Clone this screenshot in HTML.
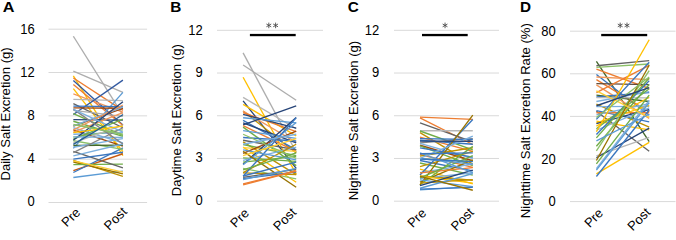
<!DOCTYPE html>
<html><head><meta charset="utf-8"><style>
html,body{margin:0;padding:0;background:#fff;width:676px;height:232px;overflow:hidden;position:relative}
.t{font-family:"Liberation Sans",sans-serif;font-size:13px;fill:#000}
.lb{font-family:"Liberation Sans",sans-serif;font-size:15.3px;font-weight:bold;fill:#000}
</style></head><body>
<svg width="676" height="232" viewBox="0 0 676 232" style="position:absolute;left:0;top:0"><line x1="48.5" y1="202.50" x2="147.1" y2="202.50" stroke="#d9d9d9" stroke-width="1"/><text transform="translate(34.8,201.30) scale(1,1.07)" y="4.7" text-anchor="end" class="t">0</text><line x1="48.5" y1="159.18" x2="147.1" y2="159.18" stroke="#d9d9d9" stroke-width="1"/><text transform="translate(34.8,158.12) scale(1,1.07)" y="4.7" text-anchor="end" class="t">4</text><line x1="48.5" y1="115.85" x2="147.1" y2="115.85" stroke="#d9d9d9" stroke-width="1"/><text transform="translate(34.8,114.95) scale(1,1.07)" y="4.7" text-anchor="end" class="t">8</text><line x1="48.5" y1="72.52" x2="147.1" y2="72.52" stroke="#d9d9d9" stroke-width="1"/><text transform="translate(34.8,71.78) scale(1,1.07)" y="4.7" text-anchor="end" class="t">12</text><line x1="48.5" y1="29.20" x2="147.1" y2="29.20" stroke="#d9d9d9" stroke-width="1"/><text transform="translate(34.8,28.60) scale(1,1.07)" y="4.7" text-anchor="end" class="t">16</text><line x1="73.35" y1="36.24" x2="122.90" y2="115.20" stroke="#ADADAD" stroke-width="1.35"/><line x1="73.35" y1="71.23" x2="122.90" y2="92.35" stroke="#ADADAD" stroke-width="1.35"/><line x1="73.35" y1="75.77" x2="122.90" y2="155.60" stroke="#FFC000" stroke-width="1.35"/><line x1="73.35" y1="77.94" x2="122.90" y2="110.43" stroke="#ED7D31" stroke-width="1.35"/><line x1="73.35" y1="80.43" x2="122.90" y2="125.06" stroke="#335AA1" stroke-width="1.35"/><line x1="73.35" y1="84.44" x2="122.90" y2="125.60" stroke="#ED7D31" stroke-width="1.35"/><line x1="73.35" y1="88.56" x2="122.90" y2="151.59" stroke="#FFC000" stroke-width="1.35"/><line x1="73.35" y1="103.72" x2="122.90" y2="127.76" stroke="#636363" stroke-width="1.35"/><line x1="73.35" y1="93.97" x2="122.90" y2="112.06" stroke="#F1975A" stroke-width="1.35"/><line x1="73.35" y1="99.39" x2="122.90" y2="100.69" stroke="#B7B7B7" stroke-width="1.35"/><line x1="73.35" y1="114.55" x2="122.90" y2="80.11" stroke="#335AA1" stroke-width="1.35"/><line x1="73.35" y1="148.34" x2="122.90" y2="92.35" stroke="#5B9BD5" stroke-width="1.35"/><line x1="73.35" y1="177.48" x2="122.90" y2="171.20" stroke="#5B9BD5" stroke-width="1.35"/><line x1="73.35" y1="160.47" x2="122.90" y2="176.29" stroke="#BF9000" stroke-width="1.35"/><line x1="73.35" y1="161.99" x2="122.90" y2="173.80" stroke="#997300" stroke-width="1.35"/><line x1="73.35" y1="170.55" x2="122.90" y2="153.76" stroke="#C65911" stroke-width="1.35"/><line x1="73.35" y1="172.50" x2="122.90" y2="147.91" stroke="#3A76BF" stroke-width="1.35"/><line x1="73.35" y1="164.59" x2="122.90" y2="164.05" stroke="#70AD47" stroke-width="1.35"/><line x1="73.35" y1="151.38" x2="122.90" y2="167.84" stroke="#636363" stroke-width="1.35"/><line x1="73.35" y1="106.10" x2="122.90" y2="106.64" stroke="#3A76BF" stroke-width="1.35"/><line x1="73.35" y1="107.83" x2="122.90" y2="108.27" stroke="#9E480E" stroke-width="1.35"/><line x1="73.35" y1="110.43" x2="122.90" y2="116.39" stroke="#ADADAD" stroke-width="1.35"/><line x1="73.35" y1="113.68" x2="122.90" y2="135.35" stroke="#70AD47" stroke-width="1.35"/><line x1="73.35" y1="126.14" x2="122.90" y2="108.27" stroke="#9E480E" stroke-width="1.35"/><line x1="73.35" y1="119.64" x2="122.90" y2="120.18" stroke="#264478" stroke-width="1.35"/><line x1="73.35" y1="129.93" x2="122.90" y2="146.18" stroke="#9E480E" stroke-width="1.35"/><line x1="73.35" y1="121.27" x2="122.90" y2="136.43" stroke="#70AD47" stroke-width="1.35"/><line x1="73.35" y1="125.92" x2="122.90" y2="107.18" stroke="#7CAFDD" stroke-width="1.35"/><line x1="73.35" y1="127.76" x2="122.90" y2="142.93" stroke="#7CAFDD" stroke-width="1.35"/><line x1="73.35" y1="129.93" x2="122.90" y2="105.02" stroke="#F1975A" stroke-width="1.35"/><line x1="73.35" y1="132.10" x2="122.90" y2="112.60" stroke="#F1975A" stroke-width="1.35"/><line x1="73.35" y1="134.26" x2="122.90" y2="132.64" stroke="#7CAFDD" stroke-width="1.35"/><line x1="73.35" y1="137.08" x2="122.90" y2="129.93" stroke="#8CC168" stroke-width="1.35"/><line x1="73.35" y1="139.14" x2="122.90" y2="119.10" stroke="#70AD47" stroke-width="1.35"/><line x1="73.35" y1="140.76" x2="122.90" y2="149.43" stroke="#8CC168" stroke-width="1.35"/><line x1="73.35" y1="140.22" x2="122.90" y2="101.77" stroke="#264478" stroke-width="1.35"/><line x1="73.35" y1="142.93" x2="122.90" y2="125.06" stroke="#B7B7B7" stroke-width="1.35"/><line x1="73.35" y1="145.53" x2="122.90" y2="145.09" stroke="#43682B" stroke-width="1.35"/><line x1="73.35" y1="147.26" x2="122.90" y2="138.60" stroke="#7CAFDD" stroke-width="1.35"/><line x1="73.35" y1="152.68" x2="122.90" y2="127.76" stroke="#848484" stroke-width="1.35"/><line x1="73.35" y1="155.93" x2="122.90" y2="144.01" stroke="#7CAFDD" stroke-width="1.35"/><line x1="73.35" y1="159.18" x2="122.90" y2="152.24" stroke="#3A76BF" stroke-width="1.35"/><line x1="73.35" y1="160.91" x2="122.90" y2="172.17" stroke="#FFCD33" stroke-width="1.35"/><line x1="73.35" y1="136.86" x2="122.90" y2="137.51" stroke="#7CAFDD" stroke-width="1.35"/><line x1="73.35" y1="109.13" x2="122.90" y2="144.01" stroke="#848484" stroke-width="1.35"/><line x1="73.35" y1="109.35" x2="122.90" y2="132.10" stroke="#7CAFDD" stroke-width="1.35"/><line x1="73.35" y1="124.51" x2="122.90" y2="134.26" stroke="#8CC168" stroke-width="1.35"/><line x1="73.35" y1="132.64" x2="122.90" y2="126.14" stroke="#FFC000" stroke-width="1.35"/><line x1="73.35" y1="144.44" x2="122.90" y2="114.77" stroke="#255E91" stroke-width="1.35"/><text transform="translate(81.15,213.30) rotate(-45)" text-anchor="end" class="t">Pre</text><text transform="translate(127.75,212.50) rotate(-45)" text-anchor="end" class="t">Post</text><text transform="translate(9.7,113.95) rotate(-90)" text-anchor="middle" class="t" style="font-size:13.1px">Daily Salt Excretion (g)</text><text transform="translate(2.80,11.6) scale(1.06,1)" class="lb">A</text><line x1="217" y1="201.20" x2="323" y2="201.20" stroke="#d9d9d9" stroke-width="1"/><text transform="translate(202.7,199.80) scale(1,1.07)" y="4.7" text-anchor="end" class="t">0</text><line x1="217" y1="158.47" x2="323" y2="158.47" stroke="#d9d9d9" stroke-width="1"/><text transform="translate(202.7,157.35) scale(1,1.07)" y="4.7" text-anchor="end" class="t">3</text><line x1="217" y1="115.75" x2="323" y2="115.75" stroke="#d9d9d9" stroke-width="1"/><text transform="translate(202.7,114.90) scale(1,1.07)" y="4.7" text-anchor="end" class="t">6</text><line x1="217" y1="73.03" x2="323" y2="73.03" stroke="#d9d9d9" stroke-width="1"/><text transform="translate(202.7,72.45) scale(1,1.07)" y="4.7" text-anchor="end" class="t">9</text><line x1="217" y1="30.30" x2="323" y2="30.30" stroke="#d9d9d9" stroke-width="1"/><text transform="translate(202.7,30.00) scale(1,1.07)" y="4.7" text-anchor="end" class="t">12</text><line x1="243.10" y1="52.94" x2="296.20" y2="152.21" stroke="#ADADAD" stroke-width="1.35"/><line x1="243.10" y1="65.05" x2="296.20" y2="100.23" stroke="#ADADAD" stroke-width="1.35"/><line x1="243.10" y1="77.30" x2="296.20" y2="174.14" stroke="#FFC000" stroke-width="1.35"/><line x1="243.10" y1="97.38" x2="296.20" y2="128.71" stroke="#B7B7B7" stroke-width="1.35"/><line x1="243.10" y1="100.94" x2="296.20" y2="168.30" stroke="#264478" stroke-width="1.35"/><line x1="243.10" y1="104.36" x2="296.20" y2="135.83" stroke="#FFC000" stroke-width="1.35"/><line x1="243.10" y1="110.91" x2="296.20" y2="153.06" stroke="#BF9000" stroke-width="1.35"/><line x1="243.10" y1="111.19" x2="296.20" y2="142.24" stroke="#F1975A" stroke-width="1.35"/><line x1="243.10" y1="112.62" x2="296.20" y2="131.56" stroke="#ED7D31" stroke-width="1.35"/><line x1="243.10" y1="114.33" x2="296.20" y2="128.14" stroke="#264478" stroke-width="1.35"/><line x1="243.10" y1="117.74" x2="296.20" y2="122.87" stroke="#5B9BD5" stroke-width="1.35"/><line x1="243.10" y1="120.31" x2="296.20" y2="149.93" stroke="#3A76BF" stroke-width="1.35"/><line x1="243.10" y1="122.87" x2="296.20" y2="142.81" stroke="#264478" stroke-width="1.35"/><line x1="243.10" y1="124.86" x2="296.20" y2="105.78" stroke="#264478" stroke-width="1.35"/><line x1="243.10" y1="125.72" x2="296.20" y2="151.35" stroke="#ED7D31" stroke-width="1.35"/><line x1="243.10" y1="127.14" x2="296.20" y2="165.60" stroke="#70AD47" stroke-width="1.35"/><line x1="243.10" y1="130.70" x2="296.20" y2="138.39" stroke="#5B9BD5" stroke-width="1.35"/><line x1="243.10" y1="137.54" x2="296.20" y2="140.96" stroke="#3A76BF" stroke-width="1.35"/><line x1="243.10" y1="140.25" x2="296.20" y2="149.93" stroke="#636363" stroke-width="1.35"/><line x1="243.10" y1="141.95" x2="296.20" y2="174.57" stroke="#BF9000" stroke-width="1.35"/><line x1="243.10" y1="144.52" x2="296.20" y2="155.63" stroke="#70AD47" stroke-width="1.35"/><line x1="243.10" y1="147.08" x2="296.20" y2="182.26" stroke="#FFC000" stroke-width="1.35"/><line x1="243.10" y1="147.65" x2="296.20" y2="151.35" stroke="#FFCD33" stroke-width="1.35"/><line x1="243.10" y1="164.17" x2="296.20" y2="117.46" stroke="#264478" stroke-width="1.35"/><line x1="243.10" y1="153.35" x2="296.20" y2="131.13" stroke="#9E480E" stroke-width="1.35"/><line x1="243.10" y1="157.91" x2="296.20" y2="161.32" stroke="#70AD47" stroke-width="1.35"/><line x1="243.10" y1="160.47" x2="296.20" y2="147.08" stroke="#7CAFDD" stroke-width="1.35"/><line x1="243.10" y1="162.18" x2="296.20" y2="156.34" stroke="#70AD47" stroke-width="1.35"/><line x1="243.10" y1="164.74" x2="296.20" y2="122.59" stroke="#5B9BD5" stroke-width="1.35"/><line x1="243.10" y1="168.30" x2="296.20" y2="178.84" stroke="#8CC168" stroke-width="1.35"/><line x1="243.10" y1="151.35" x2="296.20" y2="187.24" stroke="#997300" stroke-width="1.35"/><line x1="243.10" y1="172.57" x2="296.20" y2="144.23" stroke="#BF9000" stroke-width="1.35"/><line x1="243.10" y1="172.86" x2="296.20" y2="174.57" stroke="#BF9000" stroke-width="1.35"/><line x1="243.10" y1="175.99" x2="296.20" y2="162.18" stroke="#3A76BF" stroke-width="1.35"/><line x1="243.10" y1="176.28" x2="296.20" y2="117.74" stroke="#3A76BF" stroke-width="1.35"/><line x1="243.10" y1="177.42" x2="296.20" y2="169.44" stroke="#636363" stroke-width="1.35"/><line x1="243.10" y1="178.56" x2="296.20" y2="172.00" stroke="#3A76BF" stroke-width="1.35"/><line x1="243.10" y1="179.70" x2="296.20" y2="168.44" stroke="#5B9BD5" stroke-width="1.35"/><line x1="243.10" y1="183.83" x2="296.20" y2="170.87" stroke="#ED7D31" stroke-width="1.35"/><line x1="243.10" y1="184.82" x2="296.20" y2="171.01" stroke="#ED7D31" stroke-width="1.35"/><line x1="243.10" y1="134.26" x2="296.20" y2="158.47" stroke="#8CC168" stroke-width="1.35"/><line x1="243.10" y1="149.93" x2="296.20" y2="159.90" stroke="#5B9BD5" stroke-width="1.35"/><line x1="243.10" y1="144.23" x2="296.20" y2="134.26" stroke="#7CAFDD" stroke-width="1.35"/><line x1="243.10" y1="169.87" x2="296.20" y2="152.78" stroke="#70AD47" stroke-width="1.35"/><line x1="243.10" y1="155.63" x2="296.20" y2="138.54" stroke="#FFCD33" stroke-width="1.35"/><text transform="translate(249.85,214.00) rotate(-45)" text-anchor="end" class="t">Pre</text><text transform="translate(296.95,213.20) rotate(-45)" text-anchor="end" class="t">Post</text><text transform="translate(180.5,120.25) rotate(-90)" text-anchor="middle" class="t" style="font-size:13.1px">Daytime Salt Excretion (g)</text><text transform="translate(170.20,11.6) scale(1.0,1)" class="lb">B</text><rect x="249.90" y="33.9" width="45.80" height="2.3" fill="#000"/><line x1="268.80" y1="22.60" x2="268.80" y2="28.20" stroke="#444" stroke-width="0.85"/><line x1="266.38" y1="24.00" x2="271.22" y2="26.80" stroke="#444" stroke-width="0.85"/><line x1="266.38" y1="26.80" x2="271.22" y2="24.00" stroke="#444" stroke-width="0.85"/><line x1="275.60" y1="22.60" x2="275.60" y2="28.20" stroke="#444" stroke-width="0.85"/><line x1="273.18" y1="24.00" x2="278.02" y2="26.80" stroke="#444" stroke-width="0.85"/><line x1="273.18" y1="26.80" x2="278.02" y2="24.00" stroke="#444" stroke-width="0.85"/><line x1="394" y1="201.20" x2="499" y2="201.20" stroke="#d9d9d9" stroke-width="1"/><text transform="translate(379.3,199.80) scale(1,1.07)" y="4.7" text-anchor="end" class="t">0</text><line x1="394" y1="158.47" x2="499" y2="158.47" stroke="#d9d9d9" stroke-width="1"/><text transform="translate(379.3,157.35) scale(1,1.07)" y="4.7" text-anchor="end" class="t">3</text><line x1="394" y1="115.75" x2="499" y2="115.75" stroke="#d9d9d9" stroke-width="1"/><text transform="translate(379.3,114.90) scale(1,1.07)" y="4.7" text-anchor="end" class="t">6</text><line x1="394" y1="73.03" x2="499" y2="73.03" stroke="#d9d9d9" stroke-width="1"/><text transform="translate(379.3,72.45) scale(1,1.07)" y="4.7" text-anchor="end" class="t">9</text><line x1="394" y1="30.30" x2="499" y2="30.30" stroke="#d9d9d9" stroke-width="1"/><text transform="translate(379.3,30.00) scale(1,1.07)" y="4.7" text-anchor="end" class="t">12</text><line x1="420.00" y1="117.17" x2="472.80" y2="119.45" stroke="#ED7D31" stroke-width="1.35"/><line x1="420.00" y1="117.89" x2="472.80" y2="144.52" stroke="#ED7D31" stroke-width="1.35"/><line x1="420.00" y1="122.87" x2="472.80" y2="141.95" stroke="#636363" stroke-width="1.35"/><line x1="420.00" y1="130.70" x2="472.80" y2="130.70" stroke="#B7B7B7" stroke-width="1.35"/><line x1="420.00" y1="132.70" x2="472.80" y2="164.17" stroke="#BF9000" stroke-width="1.35"/><line x1="420.00" y1="130.99" x2="472.80" y2="149.93" stroke="#70AD47" stroke-width="1.35"/><line x1="420.00" y1="137.11" x2="472.80" y2="151.35" stroke="#ED7D31" stroke-width="1.35"/><line x1="420.00" y1="142.81" x2="472.80" y2="138.68" stroke="#848484" stroke-width="1.35"/><line x1="420.00" y1="140.25" x2="472.80" y2="144.23" stroke="#3A76BF" stroke-width="1.35"/><line x1="420.00" y1="143.38" x2="472.80" y2="158.47" stroke="#7CAFDD" stroke-width="1.35"/><line x1="420.00" y1="145.23" x2="472.80" y2="160.75" stroke="#9E480E" stroke-width="1.35"/><line x1="420.00" y1="145.94" x2="472.80" y2="165.60" stroke="#70AD47" stroke-width="1.35"/><line x1="420.00" y1="147.79" x2="472.80" y2="157.05" stroke="#3A76BF" stroke-width="1.35"/><line x1="420.00" y1="138.68" x2="472.80" y2="139.53" stroke="#3A76BF" stroke-width="1.35"/><line x1="420.00" y1="154.49" x2="472.80" y2="167.45" stroke="#ED7D31" stroke-width="1.35"/><line x1="420.00" y1="156.20" x2="472.80" y2="147.79" stroke="#BF9000" stroke-width="1.35"/><line x1="420.00" y1="158.76" x2="472.80" y2="161.32" stroke="#8CC168" stroke-width="1.35"/><line x1="420.00" y1="160.47" x2="472.80" y2="170.87" stroke="#3A76BF" stroke-width="1.35"/><line x1="420.00" y1="163.03" x2="472.80" y2="175.14" stroke="#70AD47" stroke-width="1.35"/><line x1="420.00" y1="166.59" x2="472.80" y2="151.35" stroke="#BF9000" stroke-width="1.35"/><line x1="420.00" y1="169.16" x2="472.80" y2="183.83" stroke="#FFC000" stroke-width="1.35"/><line x1="420.00" y1="172.57" x2="472.80" y2="164.03" stroke="#7CAFDD" stroke-width="1.35"/><line x1="420.00" y1="175.99" x2="472.80" y2="180.26" stroke="#BF9000" stroke-width="1.35"/><line x1="420.00" y1="178.56" x2="472.80" y2="172.72" stroke="#7CAFDD" stroke-width="1.35"/><line x1="420.00" y1="182.12" x2="472.80" y2="159.90" stroke="#997300" stroke-width="1.35"/><line x1="420.00" y1="184.68" x2="472.80" y2="146.37" stroke="#70AD47" stroke-width="1.35"/><line x1="420.00" y1="175.00" x2="472.80" y2="119.45" stroke="#3A76BF" stroke-width="1.35"/><line x1="420.00" y1="184.82" x2="472.80" y2="115.18" stroke="#997300" stroke-width="1.35"/><line x1="420.00" y1="172.86" x2="472.80" y2="167.59" stroke="#ED7D31" stroke-width="1.35"/><line x1="420.00" y1="176.13" x2="472.80" y2="183.11" stroke="#FFC000" stroke-width="1.35"/><line x1="420.00" y1="177.84" x2="472.80" y2="155.63" stroke="#70AD47" stroke-width="1.35"/><line x1="420.00" y1="179.84" x2="472.80" y2="186.67" stroke="#5B9BD5" stroke-width="1.35"/><line x1="420.00" y1="183.11" x2="472.80" y2="179.70" stroke="#BF9000" stroke-width="1.35"/><line x1="420.00" y1="185.68" x2="472.80" y2="170.15" stroke="#264478" stroke-width="1.35"/><line x1="420.00" y1="188.24" x2="472.80" y2="173.57" stroke="#5B9BD5" stroke-width="1.35"/><line x1="420.00" y1="189.95" x2="472.80" y2="186.67" stroke="#5B9BD5" stroke-width="1.35"/><line x1="420.00" y1="189.09" x2="472.80" y2="187.39" stroke="#3A76BF" stroke-width="1.35"/><line x1="420.00" y1="176.42" x2="472.80" y2="190.23" stroke="#997300" stroke-width="1.35"/><line x1="420.00" y1="158.47" x2="472.80" y2="164.17" stroke="#5B9BD5" stroke-width="1.35"/><line x1="420.00" y1="152.78" x2="472.80" y2="172.72" stroke="#5B9BD5" stroke-width="1.35"/><line x1="420.00" y1="159.04" x2="472.80" y2="161.61" stroke="#3A76BF" stroke-width="1.35"/><line x1="420.00" y1="158.47" x2="472.80" y2="136.12" stroke="#7CAFDD" stroke-width="1.35"/><line x1="420.00" y1="141.10" x2="472.80" y2="141.38" stroke="#264478" stroke-width="1.35"/><line x1="420.00" y1="153.78" x2="472.80" y2="152.92" stroke="#3A76BF" stroke-width="1.35"/><text transform="translate(427.05,214.00) rotate(-45)" text-anchor="end" class="t">Pre</text><text transform="translate(474.65,213.20) rotate(-45)" text-anchor="end" class="t">Post</text><text transform="translate(358.4,120.5) rotate(-90)" text-anchor="middle" class="t" style="font-size:13.1px">Nighttime Salt Excretion (g)</text><text transform="translate(347.70,11.6) scale(1.0,1)" class="lb">C</text><rect x="422.00" y="33.9" width="45.70" height="2.3" fill="#000"/><line x1="445.05" y1="22.60" x2="445.05" y2="28.20" stroke="#444" stroke-width="0.85"/><line x1="442.63" y1="24.00" x2="447.47" y2="26.80" stroke="#444" stroke-width="0.85"/><line x1="442.63" y1="26.80" x2="447.47" y2="24.00" stroke="#444" stroke-width="0.85"/><line x1="570" y1="201.60" x2="675.5" y2="201.60" stroke="#d9d9d9" stroke-width="1"/><text transform="translate(555.8,201.10) scale(1,1.07)" y="4.7" text-anchor="end" class="t">0</text><line x1="570" y1="159.00" x2="675.5" y2="159.00" stroke="#d9d9d9" stroke-width="1"/><text transform="translate(555.8,158.47) scale(1,1.07)" y="4.7" text-anchor="end" class="t">20</text><line x1="570" y1="116.40" x2="675.5" y2="116.40" stroke="#d9d9d9" stroke-width="1"/><text transform="translate(555.8,115.85) scale(1,1.07)" y="4.7" text-anchor="end" class="t">40</text><line x1="570" y1="73.80" x2="675.5" y2="73.80" stroke="#d9d9d9" stroke-width="1"/><text transform="translate(555.8,73.22) scale(1,1.07)" y="4.7" text-anchor="end" class="t">60</text><line x1="570" y1="31.20" x2="675.5" y2="31.20" stroke="#d9d9d9" stroke-width="1"/><text transform="translate(555.8,30.60) scale(1,1.07)" y="4.7" text-anchor="end" class="t">80</text><line x1="596.40" y1="61.45" x2="649.20" y2="141.53" stroke="#43682B" stroke-width="1.35"/><line x1="596.40" y1="65.71" x2="649.20" y2="60.59" stroke="#636363" stroke-width="1.35"/><line x1="596.40" y1="67.41" x2="649.20" y2="64.00" stroke="#8CC168" stroke-width="1.35"/><line x1="596.40" y1="69.11" x2="649.20" y2="88.50" stroke="#ED7D31" stroke-width="1.35"/><line x1="596.40" y1="74.44" x2="649.20" y2="115.33" stroke="#3A76BF" stroke-width="1.35"/><line x1="596.40" y1="77.00" x2="649.20" y2="79.55" stroke="#F1975A" stroke-width="1.35"/><line x1="596.40" y1="79.55" x2="649.20" y2="111.93" stroke="#ED7D31" stroke-width="1.35"/><line x1="596.40" y1="83.60" x2="649.20" y2="84.66" stroke="#5E4B3C" stroke-width="1.35"/><line x1="596.40" y1="84.88" x2="649.20" y2="118.32" stroke="#F1975A" stroke-width="1.35"/><line x1="596.40" y1="92.54" x2="649.20" y2="65.28" stroke="#ED7D31" stroke-width="1.35"/><line x1="596.40" y1="95.10" x2="649.20" y2="101.49" stroke="#43682B" stroke-width="1.35"/><line x1="596.40" y1="96.80" x2="649.20" y2="92.54" stroke="#3A76BF" stroke-width="1.35"/><line x1="596.40" y1="97.66" x2="649.20" y2="97.87" stroke="#B7B7B7" stroke-width="1.35"/><line x1="596.40" y1="101.49" x2="649.20" y2="91.69" stroke="#7CAFDD" stroke-width="1.35"/><line x1="596.40" y1="104.05" x2="649.20" y2="127.05" stroke="#BF9000" stroke-width="1.35"/><line x1="596.40" y1="106.60" x2="649.20" y2="106.39" stroke="#7CAFDD" stroke-width="1.35"/><line x1="596.40" y1="110.65" x2="649.20" y2="121.94" stroke="#3A76BF" stroke-width="1.35"/><line x1="596.40" y1="111.29" x2="649.20" y2="151.33" stroke="#636363" stroke-width="1.35"/><line x1="596.40" y1="112.78" x2="649.20" y2="112.78" stroke="#ED7D31" stroke-width="1.35"/><line x1="596.40" y1="114.91" x2="649.20" y2="103.62" stroke="#7CAFDD" stroke-width="1.35"/><line x1="596.40" y1="119.38" x2="649.20" y2="62.30" stroke="#3A76BF" stroke-width="1.35"/><line x1="596.40" y1="121.09" x2="649.20" y2="129.82" stroke="#FFC000" stroke-width="1.35"/><line x1="596.40" y1="122.79" x2="649.20" y2="105.32" stroke="#FFC000" stroke-width="1.35"/><line x1="596.40" y1="123.64" x2="649.20" y2="109.37" stroke="#264478" stroke-width="1.35"/><line x1="596.40" y1="126.20" x2="649.20" y2="97.23" stroke="#FFC000" stroke-width="1.35"/><line x1="596.40" y1="128.75" x2="649.20" y2="88.71" stroke="#70AD47" stroke-width="1.35"/><line x1="596.40" y1="130.25" x2="649.20" y2="107.88" stroke="#7CAFDD" stroke-width="1.35"/><line x1="596.40" y1="131.74" x2="649.20" y2="39.72" stroke="#FFC000" stroke-width="1.35"/><line x1="596.40" y1="134.50" x2="649.20" y2="80.83" stroke="#3A76BF" stroke-width="1.35"/><line x1="596.40" y1="137.91" x2="649.20" y2="78.06" stroke="#70AD47" stroke-width="1.35"/><line x1="596.40" y1="146.22" x2="649.20" y2="84.45" stroke="#70AD47" stroke-width="1.35"/><line x1="596.40" y1="150.91" x2="649.20" y2="70.60" stroke="#8CC168" stroke-width="1.35"/><line x1="596.40" y1="155.81" x2="649.20" y2="137.27" stroke="#B7B7B7" stroke-width="1.35"/><line x1="596.40" y1="157.72" x2="649.20" y2="128.12" stroke="#264478" stroke-width="1.35"/><line x1="596.40" y1="160.49" x2="649.20" y2="65.28" stroke="#997300" stroke-width="1.35"/><line x1="596.40" y1="163.90" x2="649.20" y2="95.10" stroke="#70AD47" stroke-width="1.35"/><line x1="596.40" y1="168.58" x2="649.20" y2="100.42" stroke="#7CAFDD" stroke-width="1.35"/><line x1="596.40" y1="170.08" x2="649.20" y2="102.55" stroke="#5B9BD5" stroke-width="1.35"/><line x1="596.40" y1="173.91" x2="649.20" y2="142.39" stroke="#FFC000" stroke-width="1.35"/><line x1="596.40" y1="176.47" x2="649.20" y2="110.01" stroke="#3A76BF" stroke-width="1.35"/><line x1="596.40" y1="90.84" x2="649.20" y2="117.46" stroke="#FFCD33" stroke-width="1.35"/><line x1="596.40" y1="140.89" x2="649.20" y2="114.27" stroke="#5B9BD5" stroke-width="1.35"/><line x1="596.40" y1="117.46" x2="649.20" y2="77.00" stroke="#8CC168" stroke-width="1.35"/><line x1="596.40" y1="105.75" x2="649.20" y2="87.64" stroke="#264478" stroke-width="1.35"/><text transform="translate(603.95,214.00) rotate(-45)" text-anchor="end" class="t">Pre</text><text transform="translate(651.25,213.20) rotate(-45)" text-anchor="end" class="t">Post</text><text transform="translate(529.55,120.7) rotate(-90)" text-anchor="middle" class="t" style="font-size:13.1px">Nighttime Salt Excretion Rate (%)</text><text transform="translate(520.00,11.6) scale(1.0,1)" class="lb">D</text><rect x="601.20" y="33.9" width="46.00" height="2.3" fill="#000"/><line x1="620.20" y1="22.60" x2="620.20" y2="28.20" stroke="#444" stroke-width="0.85"/><line x1="617.78" y1="24.00" x2="622.62" y2="26.80" stroke="#444" stroke-width="0.85"/><line x1="617.78" y1="26.80" x2="622.62" y2="24.00" stroke="#444" stroke-width="0.85"/><line x1="627.00" y1="22.60" x2="627.00" y2="28.20" stroke="#444" stroke-width="0.85"/><line x1="624.58" y1="24.00" x2="629.42" y2="26.80" stroke="#444" stroke-width="0.85"/><line x1="624.58" y1="26.80" x2="629.42" y2="24.00" stroke="#444" stroke-width="0.85"/></svg>
</body></html>
